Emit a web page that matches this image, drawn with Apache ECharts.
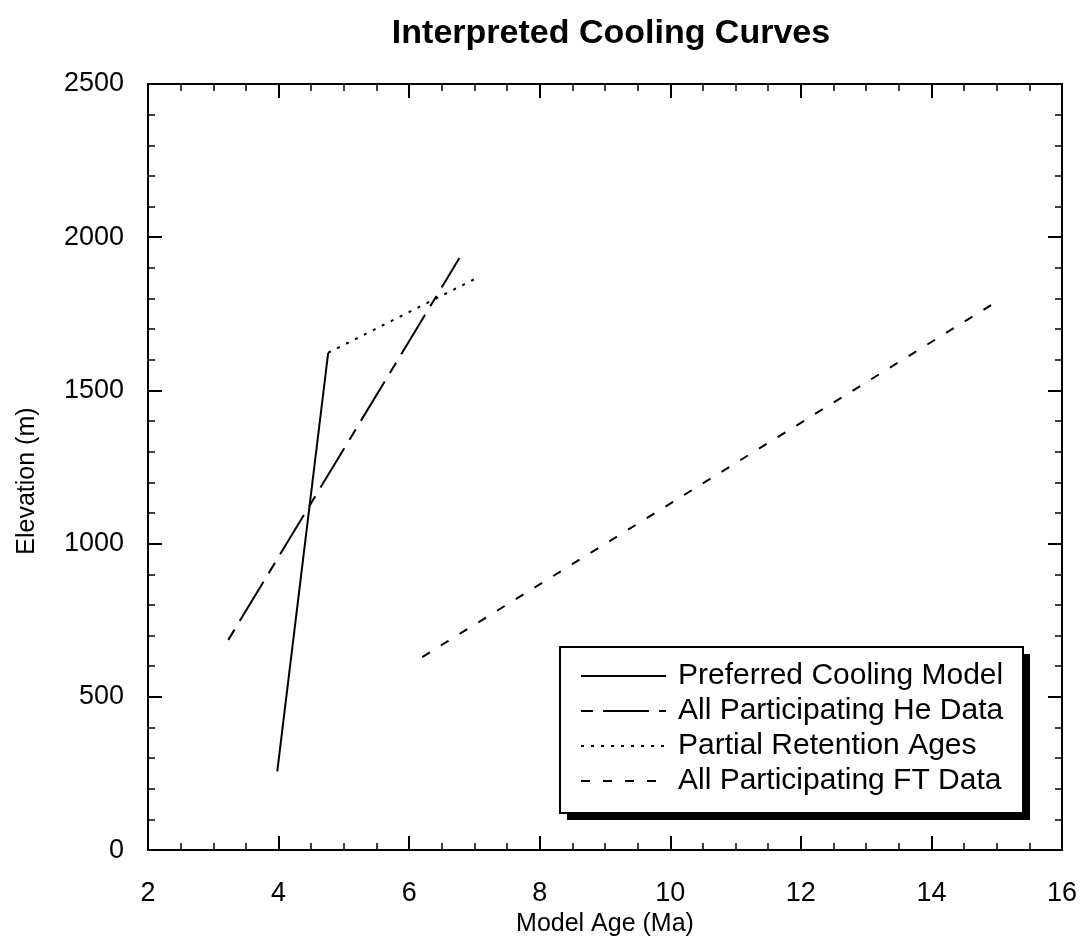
<!DOCTYPE html>
<html>
<head>
<meta charset="utf-8">
<script src="https://cdn.jsdelivr.net/npm/echarts@6/dist/echarts.min.js"></script>
<style>
html,body{margin:0;padding:0;background:#fff;}
#chart{width:1083px;height:942px;}
</style>
</head>
<body>
<div id="chart"></div>
<script>
const seriesNames = ['Preferred Cooling Model', 'All Participating He Data', 'Partial Retention Ages', 'All Participating FT Data'];
const preferredX = [3.98, 4.76];
const preferredY = [257, 1623];
const heX = [3.23, 6.77];
const heY = [686, 1932];
const partialX = [4.76, 7.0];
const partialY = [1623, 1863];
const ftX = [6.2, 15.0];
const ftY = [630, 1790];
const xTicks = [2, 4, 6, 8, 10, 12, 14, 16];
const yTicks = [0, 500, 1000, 1500, 2000, 2500];

const pairs = (xs, ys) => xs.map((x, i) => [x, ys[i]]);
const FONT = '"Liberation Sans", Arial, sans-serif';

const chart = echarts.init(document.getElementById('chart'), null, {renderer: 'canvas'});

const baseAxis = {
  type: 'value',
  axisLine: {show: true, onZero: false, lineStyle: {color: '#000', width: 2}},
  axisTick: {show: true, inside: true, length: 14, lineStyle: {color: '#000', width: 2}},
  minorTick: {show: true, length: 7, lineStyle: {color: '#000', width: 1.5}},
  splitLine: {show: false},
  minorSplitLine: {show: false}
};

function lineSeries(name, xs, ys, type) {
  return {
    name: name,
    type: 'line',
    data: pairs(xs, ys),
    symbol: 'none',
    showSymbol: false,
    silent: true,
    animation: false,
    itemStyle: {color: '#000'},
    lineStyle: {color: '#000', width: 2, type: type}
  };
}

chart.setOption({
  animation: false,
  backgroundColor: '#fff',
  title: {
    text: 'Interpreted Cooling Curves',
    left: 606,
    textAlign: 'center',
    top: 12,
    textStyle: {fontFamily: FONT, fontWeight: 'bold', fontSize: 34, color: '#000'}
  },
  graphic: [
    {type: 'rect', z: 3, zlevel: 0, silent: true, shape: {x: 567, y: 654, width: 463, height: 166}, style: {fill: '#000'}},
    {type: 'rect', z: 3, zlevel: 0, silent: true, shape: {x: 560, y: 647, width: 463, height: 166}, style: {fill: '#fff', stroke: '#000', lineWidth: 2}}
  ],
  grid: {left: 148, right: 21, top: 84, bottom: 90},
  legend: {
    z: 10,
    orient: 'vertical',
    left: 560,
    top: 647,
    align: 'left',
    data: seriesNames,
    itemWidth: 85,
    itemHeight: 14,
    itemGap: 5,
    padding: [14, 0, 0, 20],
    backgroundColor: 'transparent',
    borderWidth: 0,
    itemStyle: {opacity: 0},
    textStyle: {fontFamily: FONT, fontSize: 30, color: '#000', lineHeight: 30, padding: [0, 0, 0, 7]}
  },
  xAxis: [
    Object.assign({}, baseAxis, {
      position: 'bottom', min: xTicks[0], max: xTicks[xTicks.length - 1], interval: 2,
      minorTick: Object.assign({}, baseAxis.minorTick, {splitNumber: 4}),
      axisLabel: {show: true, margin: 30, fontFamily: FONT, fontSize: 27, color: '#000'},
      name: 'Model Age (Ma)', nameLocation: 'middle', nameGap: 57,
      nameTextStyle: {fontFamily: FONT, fontSize: 25, color: '#000'}
    }),
    Object.assign({}, baseAxis, {
      position: 'top', min: xTicks[0], max: xTicks[xTicks.length - 1], interval: 2,
      minorTick: Object.assign({}, baseAxis.minorTick, {splitNumber: 4}),
      axisLabel: {show: false}
    })
  ],
  yAxis: [
    Object.assign({}, baseAxis, {
      position: 'left', min: yTicks[0], max: yTicks[yTicks.length - 1], interval: 500,
      minorTick: Object.assign({}, baseAxis.minorTick, {splitNumber: 5}),
      axisLabel: {show: true, margin: 24, fontFamily: FONT, fontSize: 27, color: '#000', formatter: v => String(v)},
      name: 'Elevation (m)', nameLocation: 'middle', nameGap: 108,
      nameTextStyle: {fontFamily: FONT, fontSize: 25, color: '#000', padding: [0, 28, 0, 0]}
    }),
    Object.assign({}, baseAxis, {
      position: 'right', min: yTicks[0], max: yTicks[yTicks.length - 1], interval: 500,
      minorTick: Object.assign({}, baseAxis.minorTick, {splitNumber: 5}),
      axisLabel: {show: false}
    })
  ],
  series: [
    lineSeries(seriesNames[0], preferredX, preferredY, 'solid'),
    lineSeries(seriesNames[1], heX, heY, [12, 10, 46, 10]),
    lineSeries(seriesNames[2], partialX, partialY, [3, 7]),
    lineSeries(seriesNames[3], ftX, ftY, [9, 13])
  ]
});
</script>
</body>
</html>
